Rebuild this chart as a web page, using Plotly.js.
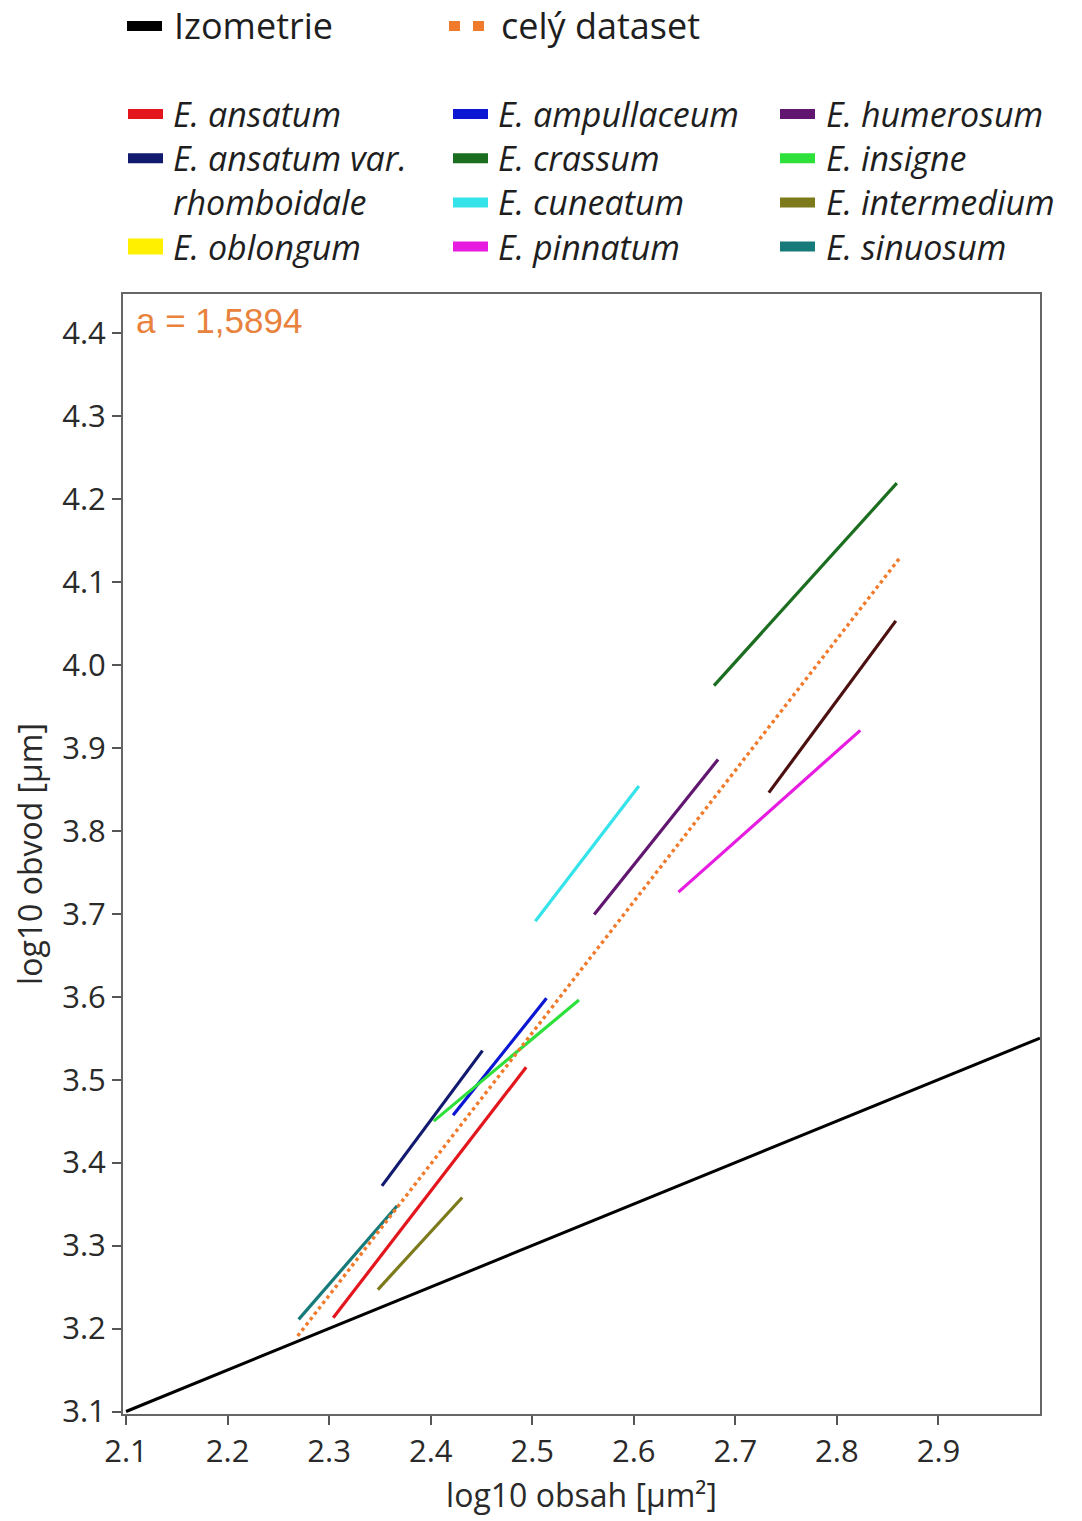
<!DOCTYPE html>
<html>
<head>
<meta charset="utf-8">
<script src="https://cdn.plot.ly/plotly-3.0.1.min.js"></script>
<style>
  html, body { margin: 0; padding: 0; background: #ffffff; }
  #chart { width: 1082px; height: 1521px; }
</style>
</head>
<body>
<div id="chart"></div>
<script>
// Allometric regression lines: log10 perimeter vs log10 area per species
const species = [
  'E. ansatum', 'E. ansatum var. rhomboidale', 'E. ampullaceum', 'E. crassum',
  'E. cuneatum', 'E. pinnatum', 'E. humerosum', 'E. insigne',
  'E. intermedium', 'E. sinuosum'
];
const startX = [2.304, 2.352, 2.422, 2.679, 2.503, 2.644, 2.561, 2.403, 2.348, 2.270];
const startY = [3.213, 3.372, 3.457, 3.975, 3.691, 3.726, 3.699, 3.450, 3.247, 3.211];
const endX   = [2.494, 2.451, 2.514, 2.859, 2.605, 2.823, 2.683, 2.546, 2.431, 2.367];
const endY   = [3.515, 3.535, 3.598, 4.219, 3.854, 3.921, 3.886, 3.596, 3.358, 3.348];

// Extra regression line drawn without a legend entry
const extraX = [2.733, 2.858];
const extraY = [3.846, 4.053];

// Isometry (slope 0.5) and the pooled-dataset fit (slope a = 1.5894)
const isoX = [2.1, 3.0];
const isoY = [3.1, 3.55];
const allX = [2.269, 2.862];
const allY = [3.191, 4.129];
const slopeLabel = 'a = 1,5894';

const xTicks = [2.1, 2.2, 2.3, 2.4, 2.5, 2.6, 2.7, 2.8, 2.9];
const yTicks = [3.1, 3.2, 3.3, 3.4, 3.5, 3.6, 3.7, 3.8, 3.9, 4.0, 4.1, 4.2, 4.3, 4.4];

// Legend order (three columns); the yellow entry has no line in the plot
const legendCols = [
  ['E. ansatum', 'E. ansatum var. rhomboidale', 'E. oblongum'],
  ['E. ampullaceum', 'E. crassum', 'E. cuneatum', 'E. pinnatum'],
  ['E. humerosum', 'E. insigne', 'E. intermedium', 'E. sinuosum']
];

const colors = {
  'E. ansatum': '#e3161d',
  'E. ansatum var. rhomboidale': '#111a6e',
  'E. oblongum': '#fff000',
  'E. ampullaceum': '#0b17d2',
  'E. crassum': '#1b6d1f',
  'E. cuneatum': '#35e3ea',
  'E. pinnatum': '#e61de0',
  'E. humerosum': '#611770',
  'E. insigne': '#2ee03a',
  'E. intermedium': '#7c7a1a',
  'E. sinuosum': '#177a7a'
};
const extraColor = '#4d1010';
const isoColor = '#000000';
const fitColor = '#f07b2c';

const W = 1082, H = 1521;
const M = { l: 123, r: 42, t: 294, b: 107 };
const PW = W - M.l - M.r, PH = H - M.t - M.b;
const px = v => (v - M.l) / PW;      // page x (px) -> paper x
const py = v => (M.t + PH - v) / PH; // page y (px) -> paper y

const textFont = 'Open Sans, Noto Sans, sans-serif';
const legendSize = 34;
const lineStep = legendSize * 1.3;   // Plotly's line spacing for <br> text

const traces = [];
traces.push({
  x: isoX, y: isoY, mode: 'lines', name: 'Izometrie',
  line: { color: isoColor, width: 3 }, showlegend: false, hoverinfo: 'skip'
});
species.forEach((s, i) => {
  traces.push({
    x: [startX[i], endX[i]], y: [startY[i], endY[i]], mode: 'lines', name: s,
    line: { color: colors[s], width: 3.2 }, showlegend: false
  });
});
traces.push({
  x: extraX, y: extraY, mode: 'lines', name: 'regrese',
  line: { color: extraColor, width: 3.2 }, showlegend: false
});
traces.push({
  x: allX, y: allY, mode: 'lines', name: 'celý dataset',
  line: { color: fitColor, width: 3.4, dash: 'dot' }, showlegend: false
});

// Hand-placed legend built from swatch rectangles and text
const shapes = [];
const annotations = [];

function swatch(x0, x1, y0, y1, color) {
  shapes.push({
    type: 'rect', xref: 'paper', yref: 'paper',
    x0: px(x0), x1: px(x1), y0: py(y1), y1: py(y0),
    fillcolor: color, line: { width: 0 }
  });
}
function label(x, y, text, size) {
  annotations.push({
    xref: 'paper', yref: 'paper', x: px(x), y: py(y),
    xanchor: 'left', yanchor: 'middle', align: 'left', showarrow: false,
    text: text, borderpad: 0,
    font: { family: textFont, size: size, color: '#1e1e1e' }
  });
}

// top row
swatch(127, 162, 21, 31, isoColor);
label(173, 25, 'Izometrie', 36);
swatch(449, 460, 21, 31, fitColor);
swatch(473, 484, 21, 31, fitColor);
label(500, 25, 'celý dataset', 36);

// species columns: one text block per column, one swatch per entry
const colSwatchX = [[128, 163], [453, 488], [780, 815]];
const colTextX = [172, 497, 825];
const firstRowY = 114;
legendCols.forEach((col, c) => {
  const lines = [];
  col.forEach(name => {
    const y = firstRowY + lines.length * lineStep;
    const tall = name === 'E. oblongum';
    swatch(colSwatchX[c][0], colSwatchX[c][1], y - (tall ? 8 : 5), y + (tall ? 8 : 5), colors[name]);
    if (name === 'E. ansatum var. rhomboidale') {
      lines.push('<i>E. ansatum var.</i>', '<i>rhomboidale</i>');
    } else {
      lines.push('<i>' + name + '</i>');
    }
  });
  const centerY = firstRowY + (lines.length - 1) * lineStep / 2;
  label(colTextX[c], centerY, lines.join('<br>'), legendSize);
});

// slope annotation inside the plot
annotations.push({
  xref: 'paper', yref: 'paper', x: px(134), y: py(320),
  xanchor: 'left', yanchor: 'middle', showarrow: false,
  text: slopeLabel,
  font: { family: 'Liberation Sans, Arial, sans-serif', size: 35, color: '#e8823c' }
});

const layout = {
  width: W, height: H,
  margin: M,
  paper_bgcolor: '#ffffff', plot_bgcolor: '#ffffff',
  showlegend: false,
  font: { family: textFont, color: '#2a2a2a' },
  xaxis: {
    range: [2.097, 3.0], tickvals: xTicks, tickformat: '.1f',
    ticks: 'outside', ticklen: 9, tickwidth: 2, tickcolor: '#555',
    showgrid: false, zeroline: false,
    showline: true, linecolor: '#666', linewidth: 2, mirror: true,
    tickfont: { family: textFont, size: 31, color: '#2a2a2a' },
    title: { text: 'log10 obsah [µm²]', font: { family: textFont, size: 32, color: '#2a2a2a' }, standoff: 14 }
  },
  yaxis: {
    range: [3.097, 4.447], tickvals: yTicks, tickformat: '.1f',
    ticks: 'outside', ticklen: 9, tickwidth: 2, tickcolor: '#555',
    showgrid: false, zeroline: false,
    showline: true, linecolor: '#666', linewidth: 2, mirror: true,
    tickfont: { family: textFont, size: 31, color: '#2a2a2a' },
    title: { text: 'log10 obvod [µm]', font: { family: textFont, size: 32, color: '#2a2a2a' }, standoff: 10 }
  },
  shapes: shapes,
  annotations: annotations
};

Plotly.newPlot('chart', traces, layout, { staticPlot: true, displayModeBar: false });
</script>
</body>
</html>
